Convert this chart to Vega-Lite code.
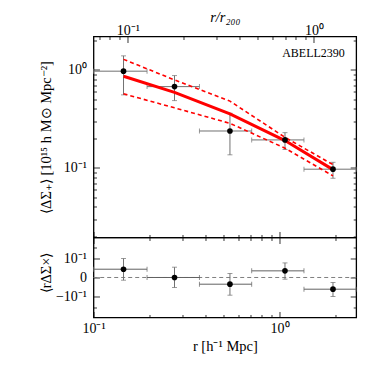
{
  "$schema": "https://vega.github.io/schema/vega-lite/v6.json",
  "autosize": {"type": "pad"},
  "padding": {"left": 37.5, "top": 7.5, "right": 5, "bottom": 5},
  "background": "white",
  "spacing": 0,
  "bounds": "flush",
  "config": {
    "view": {"stroke": "black", "strokeWidth": 1.3},
    "font": "Liberation Serif",
    "axis": {
      "labelFont": "Liberation Serif", "labelFontSize": 14, "labelColor": "black",
      "titleFont": "Liberation Serif", "titleFontSize": 14.5, "titleColor": "black", "titleFontWeight": "normal",
      "domain": false, "grid": false, "tickColor": "black", "tickWidth": 0.8,
      "labelFlush": false, "labelOverlap": false, "labelBound": false
    }
  },
  "datasets": {
    "obs": [
      {"r": 0.145, "rlo": 0.1, "rhi": 0.194, "ds": 0.97, "dslo": 0.556, "dshi": 1.39, "model": 0.86, "up": 1.28, "lo": 0.57},
      {"r": 0.2725, "rlo": 0.194, "rhi": 0.371, "ds": 0.675, "dslo": 0.486, "dshi": 0.875, "model": 0.59, "up": 0.79, "lo": 0.41},
      {"r": 0.541, "rlo": 0.371, "rhi": 0.708, "ds": 0.238, "dslo": 0.136, "dshi": 0.361, "model": 0.356, "up": 0.48, "lo": 0.285},
      {"r": 1.069, "rlo": 0.708, "rhi": 1.352, "ds": 0.193, "dslo": 0.154, "dshi": 0.229, "model": 0.19, "up": 0.205, "lo": 0.159},
      {"r": 1.936, "rlo": 1.352, "rhi": 2.58, "ds": 0.097, "dslo": 0.0784, "dshi": 0.114, "model": 0.096, "up": 0.108, "lo": 0.083}
    ],
    "cross": [
      {"r": 0.145, "rlo": 0.1, "rhi": 0.194, "dx": 0.0362, "dxlo": -0.0107, "dxhi": 0.101},
      {"r": 0.2725, "rlo": 0.194, "rhi": 0.371, "dx": 0.0, "dxlo": -0.045, "dxhi": 0.0466},
      {"r": 0.541, "rlo": 0.371, "rhi": 0.708, "dx": -0.0284, "dxlo": -0.0919, "dxhi": 0.0162},
      {"r": 1.069, "rlo": 0.708, "rhi": 1.352, "dx": 0.0282, "dxlo": -0.0066, "dxhi": 0.0715},
      {"r": 1.936, "rlo": 1.352, "rhi": 2.58, "dx": -0.0543, "dxlo": -0.101, "dxhi": -0.0206}
    ]
  },
  "vconcat": [
    {
      "width": 262.7,
      "height": 201,
      "data": {"name": "obs"},
      "resolve": {"axis": {"x": "independent", "y": "independent"}},
      "layer": [
        {
          "mark": {"type": "errorbar", "ticks": true, "size": 5, "thickness": 1, "color": "#707070"},
          "encoding": {
            "x": {"field": "rlo", "type": "quantitative", "scale": {"type": "log", "domain": [0.1, 2.58], "nice": false}, "axis": null},
            "x2": {"field": "rhi"},
            "y": {"field": "ds", "type": "quantitative", "scale": {"type": "log", "domain": [0.0195, 2.19], "nice": false}, "axis": null}
          }
        },
        {
          "mark": {"type": "errorbar", "ticks": true, "size": 5, "thickness": 1, "color": "#707070"},
          "encoding": {
            "x": {"field": "r", "type": "quantitative", "scale": {"type": "log", "domain": [0.1, 2.58], "nice": false}, "axis": null},
            "y": {"field": "dslo", "type": "quantitative", "scale": {"type": "log", "domain": [0.0195, 2.19], "nice": false}, "axis": null},
            "y2": {"field": "dshi"}
          }
        },
        {
          "mark": {"type": "line", "color": "#ff0000", "strokeWidth": 3},
          "encoding": {
            "x": {"field": "r", "type": "quantitative", "scale": {"type": "log", "domain": [0.1, 2.58], "nice": false},
              "axis": {"orient": "top", "values": [0.1071, 0.1224, 0.1377, 0.153, 0.306, 0.459, 0.612, 0.765, 0.918, 1.071, 1.224, 1.377, 1.53],
                "labelExpr": "datum.value == 0.153 ? '10⁻¹' : datum.value == 1.53 ? '10⁰' : ''",
                "tickSize": {"condition": {"test": "datum.value == 0.153 || datum.value == 1.53", "value": -6}, "value": -3},
                "labelPadding": 8, "labelBaseline": "alphabetic",
                "title": "r/r₂₀₀", "titleFontStyle": "italic", "titleY": -19.5, "titleBaseline": "middle"}},
            "y": {"field": "model", "type": "quantitative", "scale": {"type": "log", "domain": [0.0195, 2.19], "nice": false},
              "axis": {"orient": "right", "values": [0.02, 0.03, 0.04, 0.05, 0.06, 0.07, 0.08, 0.09, 0.1, 0.2, 0.3, 0.4, 0.5, 0.6, 0.7, 0.8, 0.9, 1, 2],
                "labels": false, "title": null,
                "tickSize": {"condition": {"test": "datum.value == 0.1 || datum.value == 1", "value": -6}, "value": -3}}}
          }
        },
        {
          "mark": {"type": "line", "color": "#ff0000", "strokeWidth": 1.6, "strokeDash": [4, 3]},
          "encoding": {
            "x": {"field": "r", "type": "quantitative", "axis": null},
            "y": {"field": "up", "type": "quantitative", "axis": null}
          }
        },
        {
          "mark": {"type": "line", "color": "#ff0000", "strokeWidth": 1.6, "strokeDash": [4, 3]},
          "encoding": {
            "x": {"field": "r", "type": "quantitative", "axis": null},
            "y": {"field": "lo", "type": "quantitative", "axis": null}
          }
        },
        {
          "mark": {"type": "circle", "color": "black", "size": 32, "opacity": 1},
          "encoding": {
            "x": {"field": "r", "type": "quantitative",
              "axis": {"orient": "bottom", "values": [0.1, 0.2, 0.3, 0.4, 0.5, 0.6, 0.7, 0.8, 0.9, 1, 2],
                "labels": false, "title": null,
                "tickSize": {"condition": {"test": "datum.value == 0.1 || datum.value == 1", "value": -6}, "value": -3}}},
            "y": {"field": "ds", "type": "quantitative",
              "axis": {"orient": "left", "values": [0.02, 0.03, 0.04, 0.05, 0.06, 0.07, 0.08, 0.09, 0.1, 0.2, 0.3, 0.4, 0.5, 0.6, 0.7, 0.8, 0.9, 1, 2],
                "labelExpr": "datum.value == 1 ? '10⁰' : datum.value == 0.1 ? '10⁻¹' : ''",
                "tickSize": {"condition": {"test": "datum.value == 0.1 || datum.value == 1", "value": -6}, "value": -3},
                "labelPadding": 13,
                "title": "⟨ΔΣ₊⟩ [10¹⁵ h M⊙ Mpc⁻²]", "titleX": -47, "titleY": 100.5, "titleBaseline": "middle", "titleAlign": "center"}}
          }
        },
        {
          "data": {"values": [{"label": "ABELL2390"}]},
          "mark": {"type": "text", "align": "right", "baseline": "middle", "fontSize": 12, "font": "Liberation Serif", "color": "black"},
          "encoding": {
            "x": {"datum": 2.24, "type": "quantitative", "axis": null},
            "y": {"datum": 1.49, "type": "quantitative", "axis": null},
            "text": {"field": "label"}
          }
        }
      ]
    },
    {
      "width": 262.7,
      "height": 80,
      "data": {"name": "cross"},
      "resolve": {"axis": {"x": "independent", "y": "independent"}},
      "layer": [
        {
          "data": {"values": [{"zero": 0}]},
          "mark": {"type": "rule", "color": "#808080", "strokeWidth": 1, "strokeDash": [4, 3]},
          "encoding": {
            "y": {"field": "zero", "type": "quantitative", "scale": {"type": "symlog", "constant": 0.11, "domain": [-0.324, 0.324], "nice": false}, "axis": null}
          }
        },
        {
          "mark": {"type": "errorbar", "ticks": true, "size": 5, "thickness": 1, "color": "#606060"},
          "encoding": {
            "x": {"field": "rlo", "type": "quantitative", "scale": {"type": "log", "domain": [0.1, 2.58], "nice": false},
              "axis": {"orient": "top", "values": [0.1, 0.2, 0.3, 0.4, 0.5, 0.6, 0.7, 0.8, 0.9, 1, 2],
                "labels": false, "title": null,
                "tickSize": {"condition": {"test": "datum.value == 0.1 || datum.value == 1", "value": -6}, "value": -3}}},
            "x2": {"field": "rhi"},
            "y": {"field": "dx", "type": "quantitative", "scale": {"type": "symlog", "constant": 0.11, "domain": [-0.324, 0.324], "nice": false},
              "axis": {"orient": "right", "values": [-0.2, -0.1, 0, 0.1, 0.2], "labels": false, "title": null,
                "tickSize": {"condition": {"test": "abs(datum.value) < 0.15", "value": -6}, "value": -3}}}
          }
        },
        {
          "mark": {"type": "errorbar", "ticks": true, "size": 5, "thickness": 1, "color": "#707070"},
          "encoding": {
            "x": {"field": "r", "type": "quantitative", "axis": null},
            "y": {"field": "dxlo", "type": "quantitative", "axis": null},
            "y2": {"field": "dxhi"}
          }
        },
        {
          "mark": {"type": "circle", "color": "black", "size": 32, "opacity": 1},
          "encoding": {
            "x": {"field": "r", "type": "quantitative",
              "axis": {"orient": "bottom", "values": [0.1, 0.2, 0.3, 0.4, 0.5, 0.6, 0.7, 0.8, 0.9, 1, 2],
                "labelExpr": "datum.value == 0.1 ? '10⁻¹' : datum.value == 1 ? '10⁰' : ''",
                "tickSize": {"condition": {"test": "datum.value == 0.1 || datum.value == 1", "value": -6}, "value": -3},
                "labelPadding": 10,
                "title": "r [h⁻¹ Mpc]", "titleY": 29, "titleBaseline": "middle"}},
            "y": {"field": "dx", "type": "quantitative",
              "axis": {"orient": "left", "values": [-0.2, -0.1, 0, 0.1, 0.2],
                "labelExpr": "datum.value == 0.1 ? '10⁻¹' : datum.value == -0.1 ? '−10⁻¹' : datum.value == 0 ? '0' : ''",
                "tickSize": {"condition": {"test": "abs(datum.value) < 0.15", "value": -6}, "value": -3},
                "labelPadding": 13,
                "title": "⟨rΔΣ×⟩", "titleX": -47, "titleY": 35, "titleBaseline": "middle", "titleAlign": "center"}}
          }
        }
      ]
    }
  ]
}
